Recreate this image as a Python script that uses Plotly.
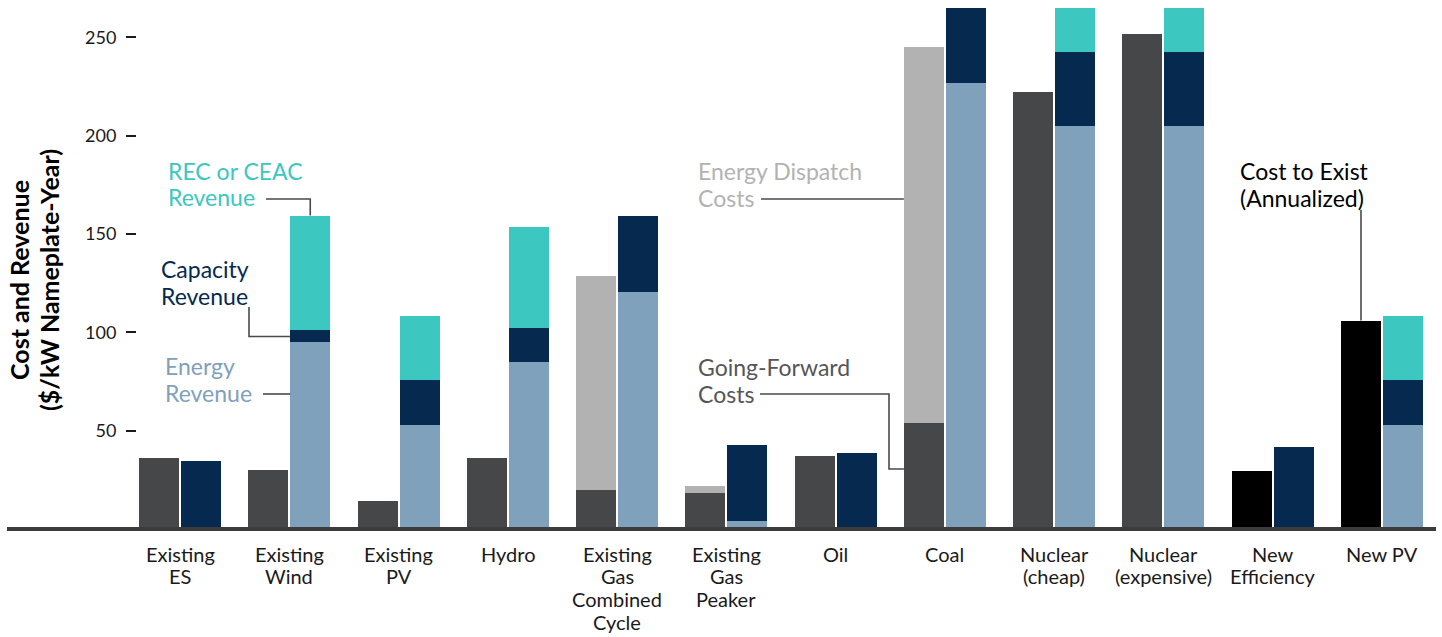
import plotly.graph_objects as go

# ---------------- data ----------------
categories = ["Existing ES", "Existing Wind", "Existing PV", "Hydro",
              "Existing Gas Combined Cycle", "Existing Gas Peaker", "Oil", "Coal",
              "Nuclear (cheap)", "Nuclear (expensive)", "New Efficiency", "New PV"]
label_lines = [["Existing", "ES"], ["Existing", "Wind"], ["Existing", "PV"], ["Hydro"],
               ["Existing", "Gas", "Combined", "Cycle"], ["Existing", "Gas", "Peaker"],
               ["Oil"], ["Coal"], ["Nuclear", "(cheap)"], ["Nuclear", "(expensive)"],
               ["New", "Efficiency"], ["New PV"]]

# cost bar (left)
going_forward = [36.3, 30.2, 14.4, 36.3, 20.0, 18.5, 37.3, 54.1, 222.5, 251.9, 0, 0]
dispatch      = [0, 0, 0, 0, 108.8, 3.5, 0, 191.2, 0, 0, 0, 0]
cost_to_exist = [0, 0, 0, 0, 0, 0, 0, 0, 0, 0, 29.6, 106.0]
# revenue bar (right)
energy_rev    = [0, 94.9, 53.0, 85.1, 120.7, 4.2, 0, 227.1, 205.1, 205.1, 0, 53.1]
capacity_rev  = [34.7, 6.1, 22.9, 17.3, 38.7, 38.7, 38.8, 45.0, 37.7, 37.7, 41.9, 22.9]
rec_rev       = [0, 58.4, 32.6, 51.4, 0, 0, 0, 0, 30.0, 30.0, 0, 32.5]

y_ticks = [50, 100, 150, 200, 250]
y_max = 265

# ---------------- style ----------------
C_GF = "#464749"
C_DISP = "#b2b2b2"
C_NEW = "#000000"
C_EN = "#7fa1bb"
C_CAP = "#062a4f"
C_REC = "#3cc7c1"
C_LEAD = "#4a4a4a"
FONT = "Source Sans Pro, Lato, sans-serif"

W, H = 1442, 637
L, R, T, B = 137, 1436, 8, 529
X0_PX, STEP_PX = 180.0, 109.27
OFF, BW = 0.192, 0.366
x_min = (L - X0_PX) / STEP_PX
x_max = (R - X0_PX) / STEP_PX
YPX = (B - T) / y_max


def dx(p):  # pixel -> data x
    return (p - X0_PX) / STEP_PX


def dy(p):  # pixel -> data y
    return (B - p) / YPX


def paper_x(p):
    return (p - L) / (R - L)


def paper_y(p):
    return (B - p) / (B - T)


n = len(categories)
x_cost = [i - OFF for i in range(n)]
x_rev = [i + OFF for i in range(n)]

fig = go.Figure()


def add_bar(xs, ys, color, name):
    fig.add_trace(go.Bar(x=xs, y=ys, width=BW, marker=dict(color=color, line=dict(width=0)),
                         name=name, showlegend=False, hoverinfo="skip"))


add_bar(x_cost, going_forward, C_GF, "Going-Forward Costs")
add_bar(x_cost, dispatch, C_DISP, "Energy Dispatch Costs")
add_bar(x_cost, cost_to_exist, C_NEW, "Cost to Exist")
add_bar(x_rev, energy_rev, C_EN, "Energy Revenue")
add_bar(x_rev, capacity_rev, C_CAP, "Capacity Revenue")
add_bar(x_rev, rec_rev, C_REC, "REC or CEAC Revenue")

annotations = []

# category labels (one annotation per line for tight line spacing)
LINE0, LSTEP = 553.5, 22.7
for i, lines in enumerate(label_lines):
    for k, t in enumerate(lines):
        annotations.append(dict(x=i, xref="x", y=paper_y(LINE0 + k * LSTEP), yref="paper",
                                text=t, showarrow=False, xanchor="center", yanchor="middle",
                                font=dict(family=FONT, size=20, color="#1a1a1a")))

# y-axis title
for t, xp in [("<b>Cost and Revenue</b>", 19), ("<b>($/kW Nameplate-Year)</b>", 49)]:
    annotations.append(dict(x=paper_x(xp), xref="paper", y=paper_y(280), yref="paper",
                            text=t, textangle=-90, showarrow=False, xanchor="center",
                            yanchor="middle", font=dict(family=FONT, size=25, color="#000000")))

# callout labels: (lines, left px, vertical mid px of the two lines, colour)
LSP = 26.5
callouts = [
    (["REC or CEAC", "Revenue"], 166, 183.8, C_REC),
    (["Capacity", "Revenue"], 159, 282.5, C_CAP),
    (["Energy", "Revenue"], 163, 379.3, C_EN),
    (["Energy Dispatch", "Costs"], 696, 184.3, C_DISP),
    (["Going-Forward", "Costs"], 696, 380.5, "#555659"),
    (["Cost to Exist", "(Annualized)"], 1238, 184.5, "#000000"),
]
for lines, xp, ymid, col in callouts:
    for k, t in enumerate(lines):
        yp = ymid + (k - (len(lines) - 1) / 2) * LSP
        annotations.append(dict(x=paper_x(xp), xref="paper", y=paper_y(yp), yref="paper",
                                text=t, showarrow=False, xanchor="left", yanchor="middle",
                                font=dict(family=FONT, size=23, color=col)))

# leader lines (data coordinates anchored to bars)
wind, coal, newpv = 1, 7, 11
wind_rev_left = wind + OFF - BW / 2
coal_cost_left = coal - OFF - BW / 2
wind_rev_top = energy_rev[wind] + capacity_rev[wind] + rec_rev[wind]
wind_cap_mid = energy_rev[wind] + capacity_rev[wind] / 2

paths = [
    f"M {dx(266)} {dy(199)} H {wind + OFF} V {wind_rev_top}",
    f"M {dx(249)} {dy(307)} V {wind_cap_mid} H {wind_rev_left}",
    f"M {dx(263)} {dy(394)} H {wind_rev_left}",
    f"M {dx(761)} {dy(199)} H {coal_cost_left}",
    f"M {dx(760)} {dy(394)} H {dx(889)} V {dy(469)} H {coal_cost_left}",
    f"M {newpv - OFF} {dy(210)} V {cost_to_exist[newpv]}",
]
shapes = [dict(type="path", path=p, xref="x", yref="y", line=dict(color=C_LEAD, width=1.6))
          for p in paths]

# baseline
shapes.append(dict(type="line", xref="paper", yref="paper", x0=paper_x(7), x1=1.0, y0=0, y1=0,
                   line=dict(color="#3c3c3c", width=4), layer="above"))

fig.update_layout(
    width=W, height=H,
    margin=dict(l=L, r=W - R, t=T, b=H - B, pad=0),
    barmode="stack",
    bargap=0,
    plot_bgcolor="white", paper_bgcolor="white",
    showlegend=False,
    xaxis=dict(range=[x_min, x_max], showgrid=False, zeroline=False, showticklabels=False,
               ticks="", showline=False, fixedrange=True),
    yaxis=dict(range=[0, y_max], tickvals=y_ticks, showgrid=False, zeroline=False,
               showline=False, ticks="outside", ticklen=10, tickwidth=1.5, tickcolor="#1a1a1a",
               ticklabelstandoff=6,
               tickfont=dict(family=FONT, size=18, color="#1a1a1a"), fixedrange=True),
    annotations=annotations,
    shapes=shapes,
)

fig.write_html("out.html", config={"displayModeBar": False},
               post_script="document.body.style.margin='0px';document.body.style.overflow='hidden';")
